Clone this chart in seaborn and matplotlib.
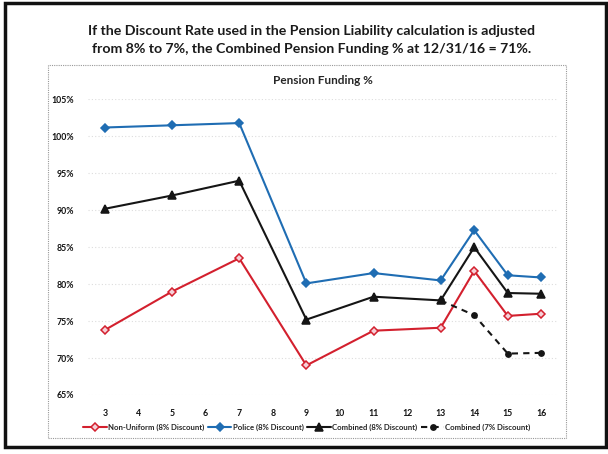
import pandas as pd
import seaborn as sns
import matplotlib.pyplot as plt
from matplotlib.patches import Rectangle
from matplotlib.ticker import FuncFormatter

# years (x labels) and funding %
years = [3, 5, 7, 9, 11, 13, 14, 15, 16]
non_uniform = [73.8, 79.0, 83.5, 69.0, 73.7, 74.1, 81.8, 75.7, 76.0]
police = [101.2, 101.5, 101.8, 80.1, 81.5, 80.5, 87.3, 81.2, 80.9]
combined_8 = [90.2, 92.0, 94.0, 75.2, 78.3, 77.8, 85.0, 78.8, 78.7]
years_7 = [13, 14, 15, 16]
combined_7 = [77.8, 75.8, 70.6, 70.7]
tick_years = list(range(3, 17))

names = ["Non-Uniform (8% Discount)", "Police (8% Discount)",
         "Combined (8% Discount)", "Combined (7% Discount)"]

rows = []
for name, xs, ys in [(names[0], years, non_uniform), (names[1], years, police),
                     (names[2], years, combined_8), (names[3], years_7, combined_7)]:
    for x, y in zip(xs, ys):
        rows.append({"year": x, "pct": y, "series": name})
df = pd.DataFrame(rows)

sns.set_style("white")
plt.rcParams['font.family'] = ['Lato', 'DejaVu Sans']

fig = plt.figure(figsize=(6.08, 4.54), dpi=100)
ax = fig.add_axes([0.145, 0.130, 0.773, 0.651])

colors = {names[0]: "#d3202e", names[1]: "#1f6db3",
          names[2]: "#151515", names[3]: "#151515"}
markers = {names[0]: "D", names[1]: "D", names[2]: "^", names[3]: "o"}
dashes = {names[0]: "", names[1]: "", names[2]: "", names[3]: (3, 2.5)}
msizes = {names[0]: 4, names[1]: 4.2, names[2]: 5.5, names[3]: 3.8}

sns.lineplot(data=df, x="year", y="pct", hue="series", style="series",
             palette=colors, markers=markers, dashes=dashes,
             hue_order=names, style_order=names, linewidth=1.5,
             markersize=5, sort=False, ax=ax, legend=True)

handles, labels = ax.get_legend_handles_labels()
ax.legend_.remove()


def restyle(line, name):
    c = colors[name]
    line.set_markeredgecolor(c)
    line.set_markeredgewidth(1.1)
    line.set_markersize(msizes[name])
    line.set_markerfacecolor("#f6d0d8" if name == names[0] else c)


data_lines = [l for l in ax.lines if len(l.get_xdata()) > 0]
for line, name in zip(data_lines, names):
    restyle(line, name)
for h, name in zip(handles, labels):
    if name in colors:
        restyle(h, name)
        h.set_linewidth(1.5)

ax.set_xlim(2.5, 16.5)
ax.set_ylim(65, 105)
ax.set_xticks(tick_years)
ax.set_yticks([65, 70, 75, 80, 85, 90, 95, 100, 105])
ax.yaxis.set_major_formatter(FuncFormatter(lambda v, p: f"{v:.0f}%"))
ax.tick_params(axis="x", length=0, pad=10, labelsize=6.3, labelcolor="#111111")
ax.tick_params(axis="y", length=0, pad=10, labelsize=6.3, labelcolor="#111111")
for lab in ax.get_xticklabels() + ax.get_yticklabels():
    lab.set_fontweight("bold")
ax.set_xlabel("")
ax.set_ylabel("")
ax.grid(axis="y", color="#dddddd", linestyle=(0, (1, 2)), linewidth=0.8)
for s in ax.spines.values():
    s.set_visible(False)

fig.legend(handles, labels, loc="center", bbox_to_anchor=(0.505, 0.058), ncol=4,
           frameon=False, prop={"size": 5.6, "weight": "bold"}, handlelength=3.0,
           columnspacing=0.5, handletextpad=0.15)

ax.set_title("Pension Funding %", fontsize=8.5, fontweight="bold", pad=11)

fig.text(0.513, 0.932, "If the Discount Rate used in the Pension Liability calculation is adjusted",
         ha="center", va="center", fontsize=10.2, fontweight="bold", color="#1a1a1a")
fig.text(0.513, 0.892, "from 8% to 7%, the Combined Pension Funding % at 12/31/16 = 71%.",
         ha="center", va="center", fontsize=10.2, fontweight="bold", color="#1a1a1a")

# dotted inner chart frame and dark outer frame of the scanned page
fig.add_artist(Rectangle((0.079, 0.035), 0.852, 0.822, transform=fig.transFigure,
                         fill=False, edgecolor="#999999", linestyle=(0, (1, 1)), linewidth=0.8))
fig.add_artist(Rectangle((0.008, 0.015), 0.988, 0.978, transform=fig.transFigure,
                         fill=False, edgecolor="#111111", linewidth=2.5))

fig.savefig("out.png", dpi=100)
